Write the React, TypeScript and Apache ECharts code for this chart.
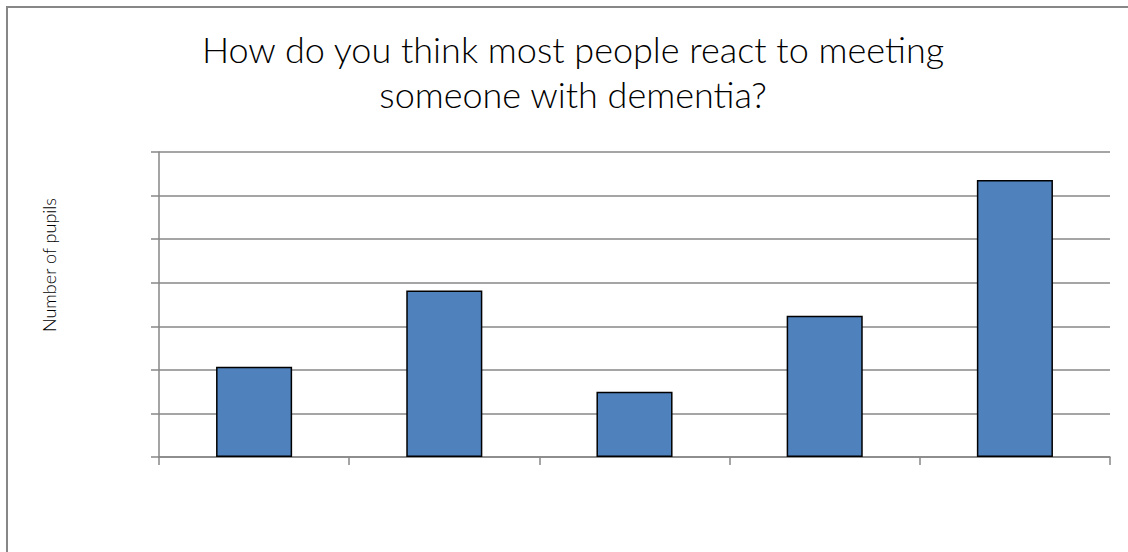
import React, { useEffect, useRef } from "react";
import * as echarts from "echarts";

// Survey answers: number of pupils per response category
const categories = ["A", "B", "C", "D", "E"];
const pupilCounts = [2.07, 3.82, 1.5, 3.24, 6.36];
const yMax = 7;
const yInterval = 1;

const titleText = "How do you think most people react to meeting\nsomeone with dementia?";
const yAxisTitle = "Number of pupils";

const GRAY = "#878787";

export default function App() {
  const ref = useRef<HTMLDivElement>(null);

  useEffect(() => {
    if (!ref.current) return;
    const chart = echarts.init(ref.current, null, { renderer: "svg" });
    chart.setOption({
      animation: false,
      backgroundColor: "#ffffff",
      title: {
        text: titleText,
        left: 573,
        top: 26,
        padding: 0,
        textAlign: "center",
        textStyle: {
          fontFamily: "Lato",
          fontWeight: 300,
          fontSize: 36,
          lineHeight: 45,
          color: "#000000",
        },
      },
      graphic: [
        {
          type: "rect",
          shape: { x: 7, y: 7, width: 1300, height: 700 },
          style: { fill: "none", stroke: GRAY, lineWidth: 2 },
          silent: true,
        },
        {
          type: "text",
          x: 49,
          y: 265,
          rotation: Math.PI / 2,
          style: {
            text: yAxisTitle,
            fontFamily: "Lato",
            fontWeight: 300,
            fontSize: 18,
            fill: "#000000",
            align: "center",
            verticalAlign: "middle",
          },
        },
      ],
      grid: { left: 159, top: 152, right: 18, bottom: 95, containLabel: false },
      xAxis: {
        type: "category",
        data: categories,
        axisLine: { lineStyle: { color: GRAY, width: 1.5 } },
        axisTick: { show: true, alignWithLabel: false, length: 8, lineStyle: { color: GRAY, width: 1.5 } },
        axisLabel: { show: false },
      },
      yAxis: {
        type: "value",
        min: 0,
        max: yMax,
        interval: yInterval,
        axisLine: { show: true, lineStyle: { color: GRAY, width: 1.5 } },
        axisTick: { show: true, length: 8, lineStyle: { color: GRAY, width: 1.5 } },
        axisLabel: { show: false },
        splitLine: { show: true, lineStyle: { color: GRAY, width: 1.5 } },
      },
      series: [
        {
          type: "bar",
          data: pupilCounts,
          barWidth: "40%",
          itemStyle: { color: "#4F81BD", borderColor: "#000000", borderWidth: 1.5 },
        },
      ],
    });
    return () => chart.dispose();
  }, []);

  return (
    <div
      ref={ref}
      style={{ position: "absolute", left: 0, top: 0, width: 1128, height: 552 }}
    />
  );
}
